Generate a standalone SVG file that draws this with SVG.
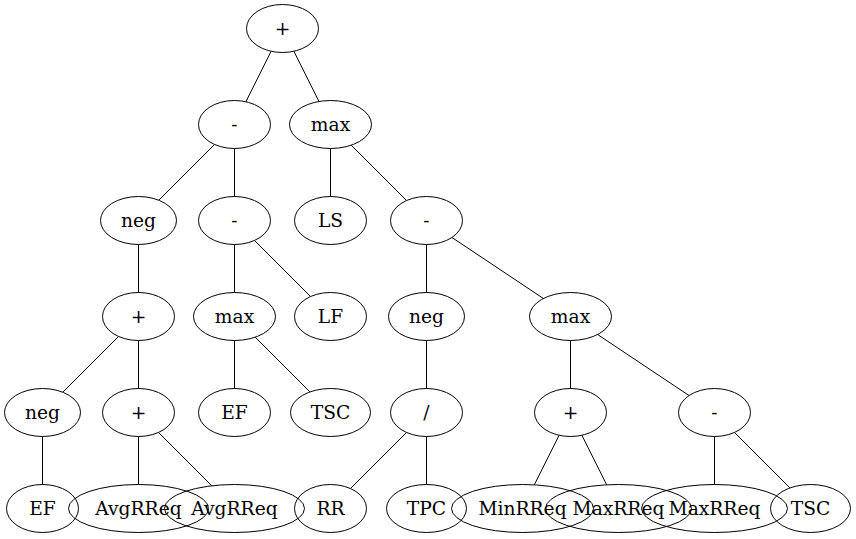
<svg xmlns="http://www.w3.org/2000/svg" width="856" height="539" viewBox="0 0 856 539">
  <style>
    .node ellipse { fill: none; stroke: #000; stroke-width: 1; }
    .node text { font-family: "DejaVu Serif", "Liberation Serif", serif; font-size: 18.67px; fill: #000; text-anchor: middle; }
    #edges line { stroke: #000; stroke-width: 1; }
  </style>
  <rect width="856" height="539" fill="#fff"/>

  <!-- tree edges -->
  <g id="edges">
    <line x1="271.1" y1="51.3" x2="245.9" y2="101.7"/>
    <line x1="293.9" y1="51.3" x2="319.0" y2="101.5"/>
    <line x1="214.5" y1="144.5" x2="158.8" y2="200.2"/>
    <line x1="234.5" y1="148.5" x2="234.5" y2="196.5"/>
    <line x1="330.5" y1="148.5" x2="330.5" y2="196.5"/>
    <line x1="351.2" y1="145.2" x2="406.5" y2="200.5"/>
    <line x1="138.5" y1="244.5" x2="138.5" y2="292.5"/>
    <line x1="234.5" y1="244.5" x2="234.5" y2="292.5"/>
    <line x1="254.5" y1="240.5" x2="310.5" y2="296.5"/>
    <line x1="426.5" y1="244.5" x2="426.5" y2="292.5"/>
    <line x1="452.0" y1="237.5" x2="543.4" y2="298.5"/>
    <line x1="118.5" y1="336.5" x2="62.8" y2="392.2"/>
    <line x1="138.5" y1="340.5" x2="138.5" y2="388.5"/>
    <line x1="234.5" y1="340.5" x2="234.5" y2="388.5"/>
    <line x1="255.2" y1="337.2" x2="309.9" y2="391.9"/>
    <line x1="426.5" y1="340.5" x2="426.5" y2="388.5"/>
    <line x1="570.5" y1="340.5" x2="570.5" y2="388.5"/>
    <line x1="597.6" y1="334.5" x2="689.0" y2="395.5"/>
    <line x1="42.5" y1="436.5" x2="42.5" y2="484.5"/>
    <line x1="138.5" y1="436.5" x2="138.5" y2="484.5"/>
    <line x1="158.5" y1="432.5" x2="211.8" y2="485.8"/>
    <line x1="406.5" y1="432.5" x2="350.5" y2="488.5"/>
    <line x1="426.5" y1="436.5" x2="426.5" y2="484.5"/>
    <line x1="559.1" y1="435.3" x2="534.3" y2="484.8"/>
    <line x1="581.9" y1="435.3" x2="606.7" y2="484.8"/>
    <line x1="714.5" y1="436.5" x2="714.5" y2="484.5"/>
    <line x1="734.5" y1="432.5" x2="789.9" y2="487.9"/>
  </g>

  <!-- rank 0 -->
  <g id="n0" class="node"><ellipse cx="282.5" cy="28.5" rx="36" ry="24"/><text x="282.5" y="34.5">+</text></g>

  <!-- rank 1 -->
  <g id="n1" class="node"><ellipse cx="234.5" cy="124.5" rx="36" ry="24"/><text x="234.5" y="130.5">-</text></g>
  <g id="n2" class="node"><ellipse cx="330.5" cy="124.5" rx="41" ry="24"/><text x="330.5" y="130.5">max</text></g>

  <!-- rank 2 -->
  <g id="n3" class="node"><ellipse cx="138.5" cy="220.5" rx="38" ry="24"/><text x="138.5" y="226.5">neg</text></g>
  <g id="n4" class="node"><ellipse cx="234.5" cy="220.5" rx="36" ry="24"/><text x="234.5" y="226.5">-</text></g>
  <g id="n5" class="node"><ellipse cx="330.5" cy="220.5" rx="36" ry="24"/><text x="330.5" y="226.5">LS</text></g>
  <g id="n6" class="node"><ellipse cx="426.5" cy="220.5" rx="36" ry="24"/><text x="426.5" y="226.5">-</text></g>

  <!-- rank 3 -->
  <g id="n7" class="node"><ellipse cx="138.5" cy="316.5" rx="36" ry="24"/><text x="138.5" y="322.5">+</text></g>
  <g id="n8" class="node"><ellipse cx="234.5" cy="316.5" rx="41" ry="24"/><text x="234.5" y="322.5">max</text></g>
  <g id="n9" class="node"><ellipse cx="330.5" cy="316.5" rx="36" ry="24"/><text x="330.5" y="322.5">LF</text></g>
  <g id="n10" class="node"><ellipse cx="426.5" cy="316.5" rx="38" ry="24"/><text x="426.5" y="322.5">neg</text></g>
  <g id="n11" class="node"><ellipse cx="570.5" cy="316.5" rx="41" ry="24"/><text x="570.5" y="322.5">max</text></g>

  <!-- rank 4 -->
  <g id="n12" class="node"><ellipse cx="42.5" cy="412.5" rx="38" ry="24"/><text x="42.5" y="418.5">neg</text></g>
  <g id="n13" class="node"><ellipse cx="138.5" cy="412.5" rx="36" ry="24"/><text x="138.5" y="418.5">+</text></g>
  <g id="n14" class="node"><ellipse cx="234.5" cy="412.5" rx="36" ry="24"/><text x="234.5" y="418.5">EF</text></g>
  <g id="n15" class="node"><ellipse cx="330.5" cy="412.5" rx="40" ry="24"/><text x="330.5" y="418.5">TSC</text></g>
  <g id="n16" class="node"><ellipse cx="426.5" cy="412.5" rx="36" ry="24"/><text x="426.5" y="418.5">/</text></g>
  <g id="n17" class="node"><ellipse cx="570.5" cy="412.5" rx="36" ry="24"/><text x="570.5" y="418.5">+</text></g>
  <g id="n18" class="node"><ellipse cx="714.5" cy="412.5" rx="36" ry="24"/><text x="714.5" y="418.5">-</text></g>

  <!-- rank 5 -->
  <g id="n19" class="node"><ellipse cx="42.5" cy="508.5" rx="36" ry="24"/><text x="42.5" y="514.5">EF</text></g>
  <g id="n20" class="node"><ellipse cx="138.5" cy="508.5" rx="70" ry="24"/><text x="138.5" y="514.5">AvgRReq</text></g>
  <g id="n21" class="node"><ellipse cx="234.5" cy="508.5" rx="70" ry="24"/><text x="234.5" y="514.5">AvgRReq</text></g>
  <g id="n22" class="node"><ellipse cx="330.5" cy="508.5" rx="36" ry="24"/><text x="330.5" y="514.5">RR</text></g>
  <g id="n23" class="node"><ellipse cx="426.5" cy="508.5" rx="40" ry="24"/><text x="426.5" y="514.5">TPC</text></g>
  <g id="n24" class="node"><ellipse cx="522.5" cy="508.5" rx="71" ry="24"/><text x="522.5" y="514.5">MinRReq</text></g>
  <g id="n25" class="node"><ellipse cx="618.5" cy="508.5" rx="73" ry="24"/><text x="618.5" y="514.5">MaxRReq</text></g>
  <g id="n26" class="node"><ellipse cx="714.5" cy="508.5" rx="73" ry="24"/><text x="714.5" y="514.5">MaxRReq</text></g>
  <g id="n27" class="node"><ellipse cx="810.5" cy="508.5" rx="40" ry="24"/><text x="810.5" y="514.5">TSC</text></g>
</svg>
